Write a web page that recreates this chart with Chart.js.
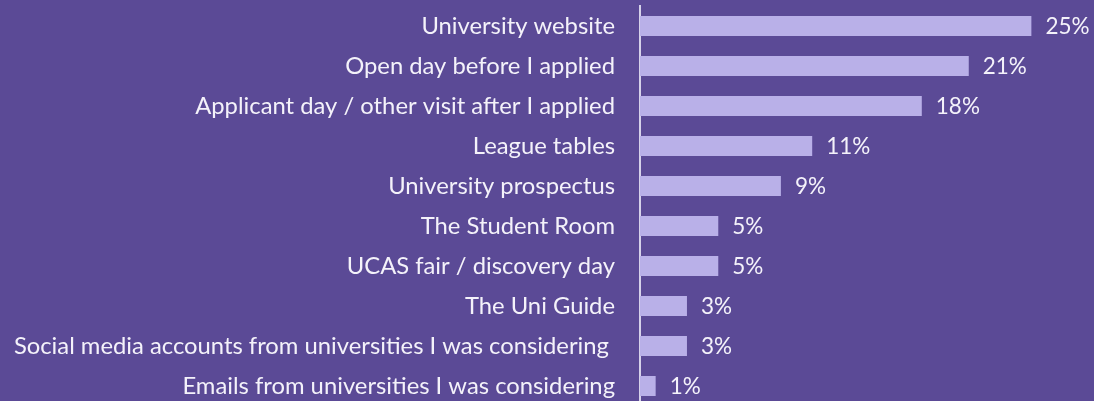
<!DOCTYPE html>
<html>
<head>
<meta charset="utf-8">
<script src="https://cdn.jsdelivr.net/npm/chart.js@4"></script>
<style>
  html, body { margin: 0; padding: 0; background: #5b4a96; overflow: hidden; }
  canvas { display: block; }
</style>
</head>
<body>
<canvas id="chart" width="1094" height="406"></canvas>
<script>
const categories = [
  'University website',
  'Open day before I applied',
  'Applicant day / other visit after I applied',
  'League tables',
  'University prospectus',
  'The Student Room',
  'UCAS fair / discovery day',
  'The Uni Guide',
  'Social media accounts from universities I was considering ',
  'Emails from universities I was considering'
];
const shares = [25, 21, 18, 11, 9, 5, 5, 3, 3, 1];
const xMax = 29;

const textColour = '#f4f2fa';
const fontSpec = { family: 'Lato, "Open Sans", sans-serif', size: 23.8 };

// draws "25%" etc. just past the end of each bar
const valueLabels = {
  id: 'valueLabels',
  afterDatasetsDraw(chart) {
    const ctx = chart.ctx;
    const meta = chart.getDatasetMeta(0);
    ctx.save();
    ctx.fillStyle = textColour;
    ctx.font = '22.5px ' + fontSpec.family;
    ctx.textAlign = 'left';
    ctx.textBaseline = 'middle';
    meta.data.forEach((bar, i) => {
      ctx.fillText(shares[i] + '%', bar.x + 14, bar.y + 1);
    });
    ctx.restore();
  }
};

new Chart(document.getElementById('chart'), {
  type: 'bar',
  data: {
    labels: categories,
    datasets: [{
      data: shares,
      backgroundColor: '#b9b0e8',
      borderWidth: 0,
      barPercentage: 0.5,
      categoryPercentage: 1.0
    }]
  },
  options: {
    indexAxis: 'y',
    responsive: false,
    animation: false,
    devicePixelRatio: 1,
    layout: { padding: { top: 6, right: 0, bottom: 0, left: 0 } },
    plugins: {
      legend: { display: false },
      tooltip: { enabled: false }
    },
    scales: {
      x: {
        display: false,
        min: 0,
        max: xMax
      },
      y: {
        afterFit: function(scale) {
          scale.width = 640;
          scale.paddingTop = 0;
          scale.paddingBottom = 0;
        },
        grid: { display: false, drawTicks: false, tickLength: 0 },
        border: { display: true, color: '#d6d2ea', width: 2 },
        ticks: {
          color: textColour,
          font: fontSpec,
          padding: 25,
          autoSkip: false
        }
      }
    }
  },
  plugins: [valueLabels]
});
</script>
</body>
</html>
